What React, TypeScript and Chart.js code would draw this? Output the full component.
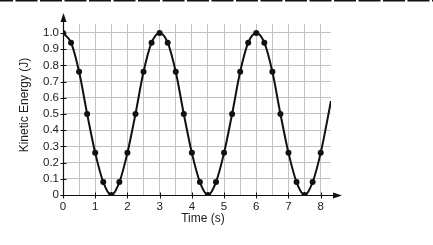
import React, { useEffect, useRef } from "react";
import { Chart, registerables } from "chart.js";

Chart.register(...registerables);

// Time (s) of each plotted dot
const times = [
  0, 0.25, 0.5, 0.75, 1, 1.25, 1.5, 1.75, 2, 2.25, 2.5, 2.75,
  3, 3.25, 3.5, 3.75, 4, 4.25, 4.5, 4.75, 5, 5.25, 5.5, 5.75,
  6, 6.25, 6.5, 6.75, 7, 7.25, 7.5, 7.75, 8,
];
// Kinetic energy (J) read at each dot
const energy = [
  1.0, 0.94, 0.76, 0.5, 0.26, 0.08, 0, 0.08, 0.26, 0.5, 0.76, 0.94,
  1.0, 0.94, 0.76, 0.5, 0.26, 0.08, 0, 0.08, 0.26, 0.5, 0.76, 0.94,
  1.0, 0.94, 0.76, 0.5, 0.26, 0.08, 0, 0.08, 0.26,
];
// Curve continues past the last dot (no marker)
const tailTimes = [8.32];
const tailEnergy = [0.58];

const xTickValues = [1, 2, 3, 4, 5, 6, 7, 8];
const yTickValues = [0, 0.1, 0.2, 0.3, 0.4, 0.5, 0.6, 0.7, 0.8, 0.9, 1.0];

const X_TITLE = "Time (s)";
const Y_TITLE = "Kinetic Energy (J)";
const FONT = "'Liberation Sans', Arial, Helvetica, sans-serif";

export default function App() {
  const ref = useRef<HTMLCanvasElement | null>(null);

  useEffect(() => {
    const canvas = ref.current;
    if (!canvas) return;

    const points = times.map((t, i) => ({ x: t, y: energy[i] }));
    const tail = tailTimes.map((t, i) => ({ x: t, y: tailEnergy[i] }));
    const all = [...points, ...tail];
    const radii = all.map((_, i) => (i < points.length ? 3 : 0));

    const axesPlugin = {
      id: "axesPlugin",
      beforeDatasetsDraw(chart: any) {
        const ctx = chart.ctx as CanvasRenderingContext2D;
        const xs = chart.scales.x;
        const ys = chart.scales.y;
        const x0 = Math.round(xs.getPixelForValue(0)) + 0.5;
        const y0 = Math.round(ys.getPixelForValue(0)) + 0.5;
        const top = chart.chartArea.top;
        const right = chart.chartArea.right;
        ctx.save();
        ctx.strokeStyle = "#111";
        ctx.fillStyle = "#111";
        ctx.lineWidth = 1.2;
        // y axis
        ctx.beginPath();
        ctx.moveTo(x0, y0 + 3);
        ctx.lineTo(x0, top - 3);
        ctx.stroke();
        ctx.beginPath();
        ctx.moveTo(x0, top - 11);
        ctx.lineTo(x0 - 3, top - 2);
        ctx.lineTo(x0 + 3, top - 2);
        ctx.closePath();
        ctx.fill();
        // x axis
        ctx.beginPath();
        ctx.moveTo(x0 - 3, y0);
        ctx.lineTo(right + 3, y0);
        ctx.stroke();
        ctx.beginPath();
        ctx.moveTo(right + 11, y0);
        ctx.lineTo(right + 2, y0 - 3);
        ctx.lineTo(right + 2, y0 + 3);
        ctx.closePath();
        ctx.fill();
        // ticks
        ctx.lineWidth = 1;
        yTickValues.forEach((v) => {
          const p = Math.round(ys.getPixelForValue(v)) + 0.5;
          ctx.beginPath();
          ctx.moveTo(x0 - 3, p);
          ctx.lineTo(x0 + 3, p);
          ctx.stroke();
        });
        xTickValues.forEach((v) => {
          const p = Math.round(xs.getPixelForValue(v)) + 0.5;
          ctx.beginPath();
          ctx.moveTo(p, y0 - 3);
          ctx.lineTo(p, y0 + 3);
          ctx.stroke();
        });
        ctx.restore();
      },
      afterDraw(chart: any) {
        const ctx = chart.ctx as CanvasRenderingContext2D;
        ctx.save();
        // dashed rule at the very top
        ctx.strokeStyle = "#111";
        ctx.lineWidth = 1.5;
        ctx.setLineDash([22, 2.5]);
        ctx.lineDashOffset = 9;
        ctx.beginPath();
        ctx.moveTo(0, 0.75);
        ctx.lineTo(chart.width, 0.75);
        ctx.stroke();
        ctx.setLineDash([]);
        // axis titles
        ctx.fillStyle = "#222";
        ctx.font = `12px ${FONT}`;
        ctx.textAlign = "center";
        ctx.textBaseline = "middle";
        ctx.fillText(X_TITLE, 203, 219);
        ctx.translate(25, 105);
        ctx.rotate(-Math.PI / 2);
        ctx.fillText(Y_TITLE, 0, 0);
        ctx.restore();
      },
    };

    const chart = new Chart(canvas, {
      type: "line",
      data: {
        datasets: [
          {
            data: all,
            borderColor: "#111",
            backgroundColor: "#111",
            borderWidth: 2,
            pointRadius: radii,
            pointHoverRadius: radii,
            pointBorderWidth: 0,
            cubicInterpolationMode: "monotone",
            fill: false,
          },
        ],
      },
      options: {
        responsive: false,
        animation: false,
        events: [],
        layout: { padding: { top: 24, right: 102, bottom: 0, left: 0 } },
        plugins: { legend: { display: false }, tooltip: { enabled: false }, title: { display: false } },
        scales: {
          x: {
            type: "linear",
            min: 0,
            max: 8.32,
            border: { display: false },
            grid: { color: "#c2c2c2", lineWidth: 1, drawTicks: false },
            ticks: {
              stepSize: 0.5,
              includeBounds: false,
              autoSkip: false,
              maxRotation: 0,
              padding: 5,
              color: "#222",
              font: { family: FONT, size: 11.5 },
              callback: (v: any) => {
                const n = Number(v);
                return Math.abs(n - Math.round(n)) < 1e-6 ? String(Math.round(n)) : "";
              },
            },
            afterFit: (s: any) => {
              s.height = 50;
            },
          },
          y: {
            type: "linear",
            min: 0,
            max: 1.055,
            border: { display: false },
            grid: { color: "#c2c2c2", lineWidth: 1, drawTicks: false },
            ticks: {
              stepSize: 0.1,
              includeBounds: false,
              autoSkip: false,
              padding: 4,
              color: "#222",
              font: { family: FONT, size: 11.5 },
              callback: (v: any) => {
                const n = Math.round(Number(v) * 10) / 10;
                return n === 0 ? "0" : n.toFixed(1);
              },
            },
            afterFit: (s: any) => {
              s.width = 63;
            },
          },
        },
      },
      plugins: [axesPlugin],
    });

    return () => chart.destroy();
  }, []);

  return (
    <div style={{ position: "fixed", left: 0, top: 0, width: 433, height: 245, background: "#fff" }}>
      <canvas ref={ref} width={433} height={245} style={{ display: "block" }} />
    </div>
  );
}
